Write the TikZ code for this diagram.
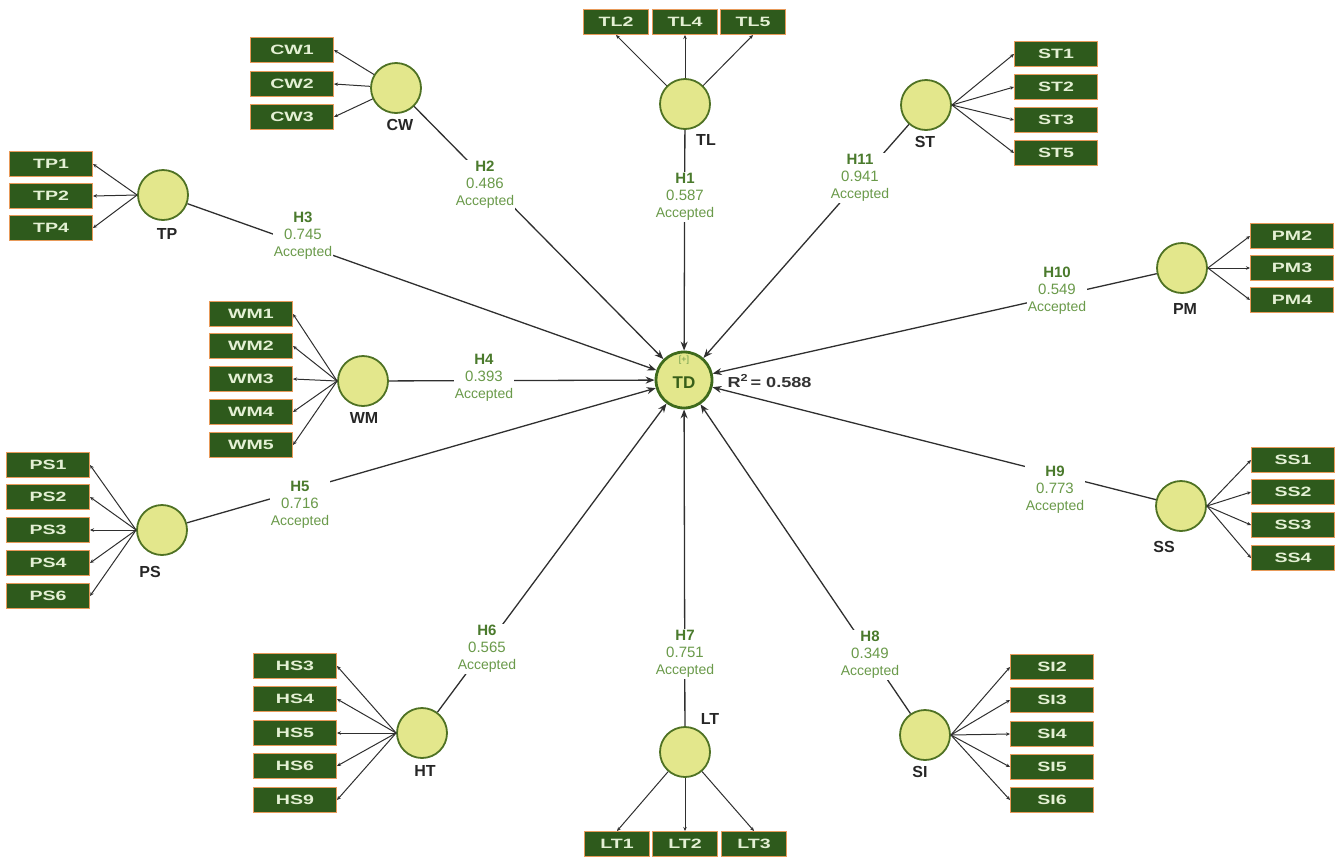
\documentclass[tikz,border=0pt]{standalone}
\usepackage{fontspec}
\setmainfont{Liberation Sans}
\newfontfamily\boxfont{Liberation Sans}[FakeStretch=1.45]
\newfontfamily\widefont{Liberation Sans}[FakeStretch=1.25]
\usetikzlibrary{arrows.meta}
\definecolor{boxfill}{HTML}{2E5A1C}
\definecolor{boxedge}{HTML}{E89A5A}
\definecolor{boxtext}{HTML}{E4F0D4}
\definecolor{lvfill}{HTML}{E3E78C}
\definecolor{lvedge}{HTML}{4F7224}
\definecolor{tdedge}{HTML}{3E6A1C}
\definecolor{lbl}{HTML}{6A9A4A}
\definecolor{lblh}{HTML}{4A7A2C}
\definecolor{ln}{HTML}{2F2F2F}
\begin{document}
\begin{tikzpicture}[x=1pt,y=-1pt,
  ind/.style={draw=boxedge,line width=1pt,fill=boxfill,text=boxtext,font=\boxfont\bfseries\fontsize{13.5}{13.5}\selectfont,minimum width=83pt,minimum height=25pt,inner sep=0pt},
  indn/.style={ind,minimum width=65pt},
  lv/.style={circle,draw=lvedge,line width=1.8pt,fill=lvfill,minimum size=50pt,inner sep=0pt},
  lvname/.style={font=\bfseries\fontsize{16}{16}\selectfont,text=black!85},
  meas/.style={draw=ln,line width=1pt,-{Stealth[length=4pt,width=3.5pt]}},
  struct/.style={draw=ln,line width=1.3pt,-{Stealth[length=9pt,width=7pt]}},
  hlab/.style={fill=white,inner sep=1pt,align=center,text=lbl,font=\fontsize{15}{17}\selectfont},
]
\useasboundingbox (0,0) rectangle (1340,857);
\newcommand{\hl}[2]{{\fontsize{15}{17}\selectfont\bfseries\color{lblh}#1}\\#2\\{\fontsize{14}{17}\selectfont Accepted}}

% central construct
\node[circle,draw=tdedge,line width=2.8pt,fill=lvfill,minimum size=56pt,inner sep=0pt] (TD) at (684,380) {};
\node[font=\bfseries\fontsize{17}{17}\selectfont,text=tdedge!90!black] (tdt) at (684,383) {TD};
\node[font=\fontsize{9}{9}\selectfont,text=lbl] (tdp) at (684,360) {[+]};
\node[font=\widefont\bfseries\fontsize{14.5}{14.5}\selectfont,text=black!80,anchor=west] (r2) at (724,381) {R\textsuperscript{2}\,= 0.588};

% latent constructs
\node[lv] (TL) at (685,104) {};
\node[lv] (CW) at (396,88) {};
\node[lv] (TP) at (163,195) {};
\node[lv] (WM) at (363,381) {};
\node[lv] (PS) at (162,530) {};
\node[lv] (HT) at (422,733) {};
\node[lv] (LT) at (685,752) {};
\node[lv] (SI) at (925,735) {};
\node[lv] (SS) at (1181,506) {};
\node[lv] (PM) at (1182,268) {};
\node[lv] (ST) at (926,105) {};

\node[lvname] (TLn) at (706,140) {TL};
\node[lvname] (CWn) at (400,125) {CW};
\node[lvname] (TPn) at (167,234) {TP};
\node[lvname] (WMn) at (364,418) {WM};
\node[lvname] (PSn) at (150,572) {PS};
\node[lvname] (HTn) at (425,771) {HT};
\node[lvname] (LTn) at (710,719) {LT};
\node[lvname] (SIn) at (920,772) {SI};
\node[lvname] (SSn) at (1164,547) {SS};
\node[lvname] (PMn) at (1185,309) {PM};
\node[lvname] (STn) at (925,142) {ST};

% indicators
\node[indn] (TL2) at (616,22) {TL2};
\node[indn] (TL4) at (685,22) {TL4};
\node[indn] (TL5) at (753,22) {TL5};
\node[ind] (CW1) at (292,50) {CW1};
\node[ind] (CW2) at (292,84) {CW2};
\node[ind] (CW3) at (292,117) {CW3};
\node[ind] (TP1) at (51,164) {TP1};
\node[ind] (TP2) at (51,196) {TP2};
\node[ind] (TP4) at (51,228) {TP4};
\node[ind] (WM1) at (251,314) {WM1};
\node[ind] (WM2) at (251,346) {WM2};
\node[ind] (WM3) at (251,379) {WM3};
\node[ind] (WM4) at (251,412) {WM4};
\node[ind] (WM5) at (251,445) {WM5};
\node[ind] (PS1) at (48,465) {PS1};
\node[ind] (PS2) at (48,497) {PS2};
\node[ind] (PS3) at (48,530) {PS3};
\node[ind] (PS4) at (48,563) {PS4};
\node[ind] (PS6) at (48,596) {PS6};
\node[ind] (HS3) at (295,666) {HS3};
\node[ind] (HS4) at (295,699) {HS4};
\node[ind] (HS5) at (295,733) {HS5};
\node[ind] (HS6) at (295,766) {HS6};
\node[ind] (HS9) at (295,800) {HS9};
\node[indn] (LT1) at (617,844) {LT1};
\node[indn] (LT2) at (685,844) {LT2};
\node[indn] (LT3) at (754,844) {LT3};
\node[ind] (SI2) at (1052,667) {SI2};
\node[ind] (SI3) at (1052,700) {SI3};
\node[ind] (SI4) at (1052,734) {SI4};
\node[ind] (SI5) at (1052,767) {SI5};
\node[ind] (SI6) at (1052,800) {SI6};
\node[ind] (SS1) at (1293,460) {SS1};
\node[ind] (SS2) at (1293,492) {SS2};
\node[ind] (SS3) at (1293,525) {SS3};
\node[ind] (SS4) at (1293,558) {SS4};
\node[ind] (PM2) at (1292,236) {PM2};
\node[ind] (PM3) at (1292,268) {PM3};
\node[ind] (PM4) at (1292,300) {PM4};
\node[ind] (ST1) at (1056,54) {ST1};
\node[ind] (ST2) at (1056,87) {ST2};
\node[ind] (ST3) at (1056,120) {ST3};
\node[ind] (ST5) at (1056,153) {ST5};

% measurement arrows
\foreach \i in {TL2,TL4,TL5} \draw[meas] (TL) -- (\i.south);
\foreach \i in {CW1,CW2,CW3} \draw[meas] (CW) -- (\i.east);
\foreach \i in {TP1,TP2,TP4} \draw[meas] (TP.west) -- (\i.east);
\foreach \i in {WM1,WM2,WM3,WM4,WM5} \draw[meas] (WM.west) -- (\i.east);
\foreach \i in {PS1,PS2,PS3,PS4,PS6} \draw[meas] (PS.west) -- (\i.east);
\foreach \i in {HS3,HS4,HS5,HS6,HS9} \draw[meas] (HT.west) -- (\i.east);
\foreach \i in {LT1,LT2,LT3} \draw[meas] (LT) -- (\i.north);
\foreach \i in {SI2,SI3,SI4,SI5,SI6} \draw[meas] (SI.east) -- (\i.west);
\foreach \i in {SS1,SS2,SS3,SS4} \draw[meas] (SS.east) -- (\i.west);
\foreach \i in {PM2,PM3,PM4} \draw[meas] (PM.east) -- (\i.west);
\foreach \i in {ST1,ST2,ST3,ST5} \draw[meas] (ST.east) -- (\i.west);

% structural paths
\foreach \s in {TL,CW,TP,WM,PS,HT,LT,SI,SS,PM,ST} \draw[struct] (\s) -- (TD);

% path labels
\node[hlab] (h1) at (685,197) {\hl{H1}{0.587}};
\node[hlab] (h2) at (485,185) {\hl{H2}{0.486}};
\node[hlab] (h3) at (303,236) {\hl{H3}{0.745}};
\node[hlab] (h4) at (484,378) {\hl{H4}{0.393}};
\node[hlab] (h5) at (300,505) {\hl{H5}{0.716}};
\node[hlab] (h6) at (487,649) {\hl{H6}{0.565}};
\node[hlab] (h7) at (685,654) {\hl{H7}{0.751}};
\node[hlab] (h8) at (870,655) {\hl{H8}{0.349}};
\node[hlab] (h9) at (1055,490) {\hl{H9}{0.773}};
\node[hlab] (h10) at (1057,291) {\hl{H10}{0.549}};
\node[hlab] (h11) at (860,178) {\hl{H11}{0.941}};
\end{tikzpicture}
\end{document}
